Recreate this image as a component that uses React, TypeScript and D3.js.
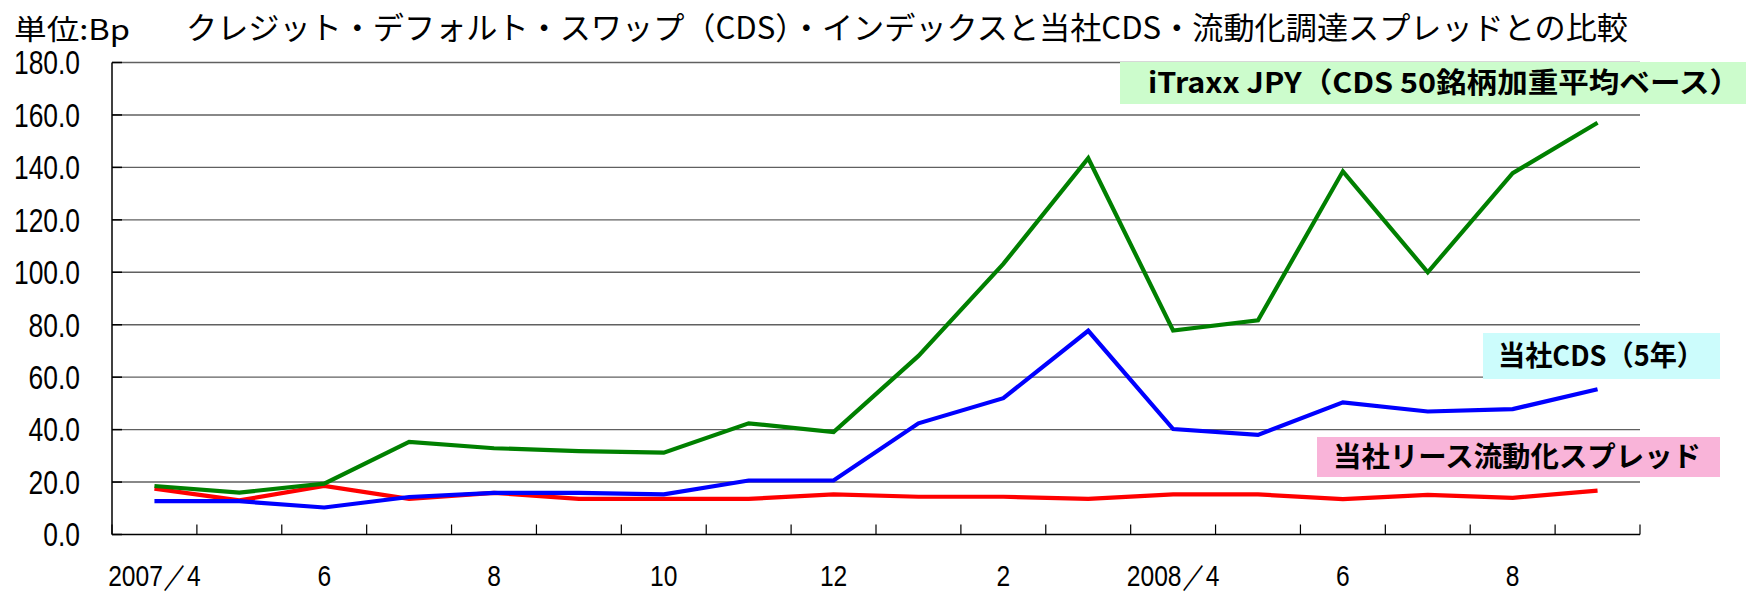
import React, { useEffect, useRef } from 'react'
import * as d3 from 'd3'

// months from 2007/4 to 2008/9
const months = ['2007/4', '2007/5', '2007/6', '2007/7', '2007/8', '2007/9', '2007/10', '2007/11', '2007/12',
    '2008/1', '2008/2', '2008/3', '2008/4', '2008/5', '2008/6', '2008/7', '2008/8', '2008/9']
const monthLabels = ['2007／4', '', '6', '', '8', '', '10', '', '12', '', '2', '', '2008／4', '', '6', '', '8', '']

const itraxx = [18.5, 16.0, 19.4, 35.3, 32.9, 31.8, 31.2, 42.4, 39.1, 68.1, 103.2, 143.5, 77.8, 81.7, 138.5, 100.0, 137.8, 157.0]
const ownCds = [12.7, 12.7, 10.3, 14.3, 15.9, 15.9, 15.3, 20.6, 20.6, 42.4, 52.0, 77.7, 40.2, 38.0, 50.4, 46.9, 47.8, 55.4]
const leaseSpread = [17.5, 13.0, 18.5, 13.6, 15.9, 13.6, 13.6, 13.6, 15.3, 14.4, 14.4, 13.6, 15.3, 15.3, 13.5, 15.1, 14.0, 16.7]

const yTicks = [0, 20, 40, 60, 80, 100, 120, 140, 160, 180]

const title = 'クレジット・デフォルト・スワップ（CDS）・インデックスと当社CDS・流動化調達スプレッドとの比較'
const unitLabel = '単位:Bp'

const series = [
    { name: '当社リース流動化スプレッド', values: leaseSpread, color: '#ff0000' },
    { name: 'iTraxx JPY（CDS 50銘柄加重平均ベース）', values: itraxx, color: '#008000' },
    { name: '当社CDS（5年）', values: ownCds, color: '#0000ff' }
]

const CJK = '"Noto Sans CJK JP", "Noto Sans", sans-serif'
const NUM = '"Liberation Sans", Arial, sans-serif'

const App = () => {
    const chartRef = useRef<SVGSVGElement | null>(null)

    useEffect(() => {
        document.body.style.margin = '0'
        const width = 1746
        const height = 594
        const plot = { left: 112, right: 1640, top: 62.5, bottom: 534.5 }

        const svg = d3.select(chartRef.current)
        svg.selectAll('*').remove()

        const x = d3.scaleBand<string>().domain(months).range([plot.left, plot.right]).padding(0)
        const y = d3.scaleLinear().domain([0, 180]).range([plot.bottom, plot.top])
        const cx = (m: string) => (x(m) as number) + x.bandwidth() / 2

        svg.append('rect').attr('width', width).attr('height', height).attr('fill', '#fff')

        // gridlines
        svg.selectAll('.grid')
            .data(yTicks.filter(d => d > 0))
            .enter()
            .append('line')
            .attr('x1', plot.left)
            .attr('x2', plot.right)
            .attr('y1', d => y(d))
            .attr('y2', d => y(d))
            .attr('stroke', '#606060')
            .attr('stroke-width', 1.4)

        // y axis + inward ticks
        svg.append('line')
            .attr('x1', plot.left).attr('x2', plot.left)
            .attr('y1', plot.top).attr('y2', plot.bottom)
            .attr('stroke', '#000').attr('stroke-width', 1.5)
        svg.selectAll('.ytick')
            .data(yTicks)
            .enter()
            .append('line')
            .attr('x1', plot.left).attr('x2', plot.left + 10)
            .attr('y1', d => y(d)).attr('y2', d => y(d))
            .attr('stroke', '#000').attr('stroke-width', 1.5)

        // condensed tick labels
        svg.selectAll('.ylabel')
            .data(yTicks)
            .enter()
            .append('text')
            .attr('transform', d => `translate(80,${y(d)}) scale(0.8,1)`)
            .attr('dy', '0.36em')
            .attr('text-anchor', 'end')
            .style('font-family', NUM)
            .style('font-size', '33px')
            .text(d => d.toFixed(1))

        // x axis
        svg.append('line')
            .attr('x1', plot.left).attr('x2', plot.right)
            .attr('y1', plot.bottom).attr('y2', plot.bottom)
            .attr('stroke', '#000').attr('stroke-width', 1.5)
        const bounds = months.map(m => x(m) as number).concat([plot.right])
        svg.selectAll('.xtick')
            .data(bounds)
            .enter()
            .append('line')
            .attr('x1', d => d).attr('x2', d => d)
            .attr('y1', plot.bottom).attr('y2', plot.bottom - 10)
            .attr('stroke', '#000').attr('stroke-width', 1.2)

        svg.selectAll('.xlabel')
            .data(months)
            .enter()
            .append('text')
            .attr('transform', d => `translate(${cx(d)},586) scale(0.82,1)`)
            .attr('text-anchor', 'middle')
            .style('font-family', NUM)
            .style('font-size', '30px')
            .text((d, i) => monthLabels[i])

        // series lines
        const line = d3.line<number>()
            .x((d, i) => cx(months[i]))
            .y(d => y(d))

        series.forEach(s => {
            svg.append('path')
                .datum(s.values)
                .attr('fill', 'none')
                .attr('stroke', s.color)
                .attr('stroke-width', 4.2)
                .attr('d', line)
        })

        // series labels
        const labels = [
            { text: series[1].name, fill: '#ccfccc', x0: 1120, x1: 1746, y0: 62, y1: 104, tx: 1148, tw: 592 },
            { text: series[2].name, fill: '#ccfcfc', x0: 1483, x1: 1720, y0: 333, y1: 379, tx: 1498, tw: 206 },
            { text: series[0].name, fill: '#f9b4d9', x0: 1317, x1: 1720, y0: 437, y1: 477, tx: 1333, tw: 368 }
        ]
        labels.forEach(l => {
            svg.append('rect')
                .attr('x', l.x0).attr('y', l.y0)
                .attr('width', l.x1 - l.x0).attr('height', l.y1 - l.y0)
                .attr('fill', l.fill)
            svg.append('text')
                .attr('x', l.tx)
                .attr('y', (l.y0 + l.y1) / 2)
                .attr('dy', '0.36em')
                .attr('textLength', l.tw)
                .attr('lengthAdjust', 'spacingAndGlyphs')
                .style('font-family', CJK)
                .style('font-weight', 'bold')
                .style('font-size', '28px')
                .text(l.text)
        })

        // title and unit
        svg.append('text')
            .attr('x', 186)
            .attr('y', 39)
            .attr('textLength', 1442)
            .attr('lengthAdjust', 'spacingAndGlyphs')
            .style('font-family', CJK)
            .style('font-size', '31px')
            .text(title)

        svg.append('text')
            .attr('x', 14)
            .attr('y', 40)
            .attr('textLength', 116)
            .attr('lengthAdjust', 'spacingAndGlyphs')
            .style('font-family', CJK)
            .style('font-size', '28px')
            .text(unitLabel)
    }, [])

    return <svg ref={chartRef} width={1746} height={594} style={{ display: 'block' }} />
}

export default App
